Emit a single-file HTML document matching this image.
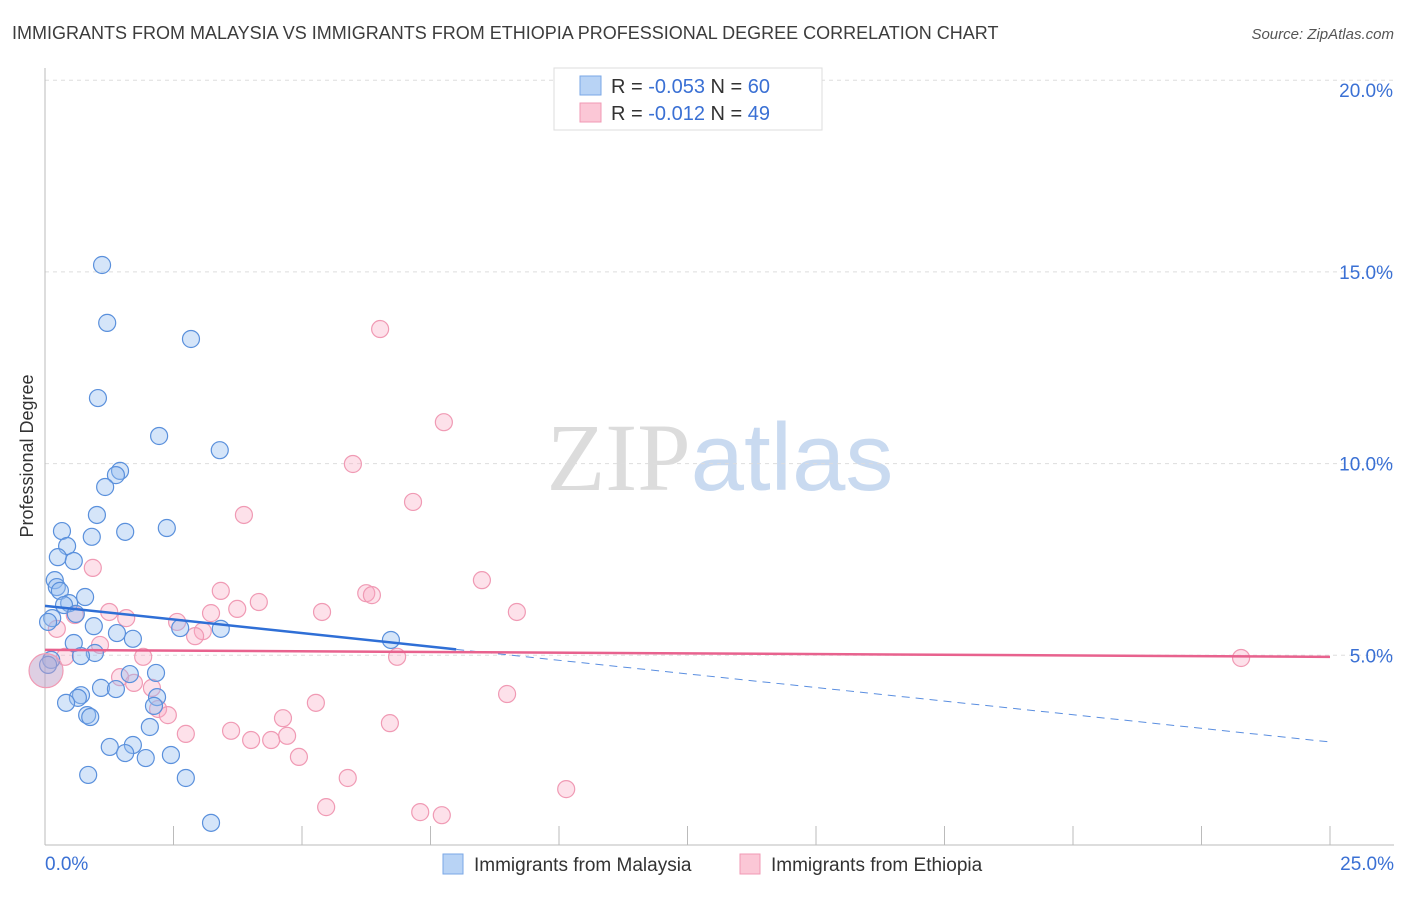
<!DOCTYPE html>
<html><head><meta charset="utf-8"><style>
body{margin:0;background:#fff;font-family:"Liberation Sans",sans-serif;}
svg text{font-family:"Liberation Sans",sans-serif;}
</style></head><body>
<svg id="chart" width="1406" height="892" xmlns="http://www.w3.org/2000/svg">
<text x="12" y="39" font-size="18" fill="#3c3c3c">IMMIGRANTS FROM MALAYSIA VS IMMIGRANTS FROM ETHIOPIA PROFESSIONAL DEGREE CORRELATION CHART</text>
<text x="1394" y="39" font-size="15" fill="#555" font-style="italic" text-anchor="end">Source: ZipAtlas.com</text>
<text x="720" y="490" font-size="96" text-anchor="middle"><tspan fill="#dcdcdc" font-family="Liberation Serif">ZIP</tspan><tspan fill="#c9daf0">atlas</tspan></text>
<text transform="translate(33,456) rotate(-90)" font-size="18" fill="#333" text-anchor="middle">Professional Degree</text>
<g id="grid"></g>
<g id="axes"></g>
<g id="points"></g>
<g id="trends"></g>
<g>
<rect x="554" y="68" width="268" height="62" fill="#fff" stroke="#ddd"/>
<rect x="580" y="76" width="21" height="19" fill="#b8d3f5" stroke="#7aa7e6"/>
<rect x="580" y="103" width="21" height="19" fill="#fbc7d6" stroke="#f09ab4"/>
<text x="611" y="93" font-size="20" fill="#333">R = <tspan fill="#3a70d4">-0.053</tspan>   N = <tspan fill="#3a70d4">60</tspan></text>
<text x="611" y="120" font-size="20" fill="#333">R =  <tspan fill="#3a70d4">-0.012</tspan>   N = <tspan fill="#3a70d4">49</tspan></text>
</g>
<g>
<rect x="443" y="854" width="20" height="20" fill="#b8d3f5" stroke="#7aa7e6"/>
<text x="474" y="871" font-size="19" fill="#333">Immigrants from Malaysia</text>
<rect x="740" y="854" width="20" height="20" fill="#fbc7d6" stroke="#f09ab4"/>
<text x="771" y="871" font-size="19" fill="#333">Immigrants from Ethiopia</text>
</g>
</svg>
<script>
const xTicks=[0,2.5,5,7.5,10,12.5,15,17.5,20,22.5,25];
const yTicks=[5,10,15,20];
const yTickLabels=["5.0%","10.0%","15.0%","20.0%"];
const xEndLabels=["0.0%","25.0%"];
const malaysiaX=[1.11,1.21,2.84,1.03,2.22,3.40,1.46,1.38,1.17,1.01,2.37,0.33,1.56,0.91,0.43,0.25,0.56,0.19,0.23,0.29,0.78,0.47,0.37,0.60,0.14,0.06,0.95,2.63,3.42,1.40,1.71,6.73,0.56,0.97,0.70,0.12,0.06,2.16,1.65,1.09,1.38,0.70,0.64,2.18,0.41,2.12,0.82,0.88,2.04,1.26,1.71,1.56,1.96,2.45,0.84,2.74,3.23];
const malaysiaY=[15.18,13.67,13.25,11.71,10.72,10.35,9.81,9.70,9.39,8.66,8.32,8.24,8.22,8.09,7.85,7.56,7.46,6.96,6.78,6.68,6.52,6.36,6.31,6.08,5.97,5.87,5.76,5.71,5.69,5.58,5.43,5.40,5.32,5.06,4.98,4.88,4.75,4.54,4.51,4.15,4.12,3.96,3.89,3.91,3.76,3.68,3.44,3.39,3.13,2.61,2.66,2.45,2.32,2.40,1.88,1.80,0.63];
const ethiopiaX=[6.52,7.76,5.99,7.16,3.87,0.93,8.50,3.42,6.25,6.36,4.16,3.74,5.39,9.18,3.23,1.25,1.58,2.57,0.58,3.07,2.92,0.23,1.07,1.91,6.85,23.27,0.39,1.46,1.73,2.08,8.99,5.27,2.20,2.39,4.63,6.71,3.62,2.74,4.71,4.01,4.40,4.94,5.89,10.14,5.47,7.30,7.72];
const ethiopiaY=[13.51,11.08,9.99,9.00,8.66,7.28,6.96,6.68,6.62,6.57,6.39,6.21,6.13,6.13,6.10,6.13,5.97,5.87,6.05,5.63,5.50,5.69,5.27,4.96,4.96,4.93,4.96,4.43,4.28,4.15,3.99,3.76,3.60,3.44,3.36,3.23,3.03,2.95,2.90,2.79,2.79,2.35,1.80,1.51,1.04,0.91,0.83];
const bigX=[0.02]; const bigY=[4.6];
const malaysiaTrend=[6.29,2.74]; const malaysiaSolidEnd=8.0;
const ethiopiaTrend=[5.14,4.96];
const NS="http://www.w3.org/2000/svg";
const X=v=>45+v*51.4, Y=v=>847-v*38.34;
function mk(t,a,p){const e=document.createElementNS(NS,t);for(const k in a)e.setAttribute(k,a[k]);document.getElementById(p).appendChild(e);return e;}
yTicks.forEach((t,i)=>{
 const l=mk('line',{x1:45,x2:1394,y1:Y(t),y2:Y(t),stroke:'#ddd','stroke-dasharray':'4,4'},'grid');
 
 
 const tx=mk('text',{x:1393,y:Y(t)+7+ (t===20?10:0) ,'font-size':19,fill:'#3a70d4','text-anchor':'end'},'axes');
 tx.textContent=yTickLabels[i];
 
 
});
mk('line',{x1:45,x2:45,y1:68,y2:845,stroke:'#bbb'},'axes');
mk('line',{x1:45,x2:1394,y1:845,y2:845,stroke:'#bbb'},'axes');
xTicks.forEach(t=>{
 const l=mk('line',{x1:X(t),x2:X(t),y1:826,y2:845,stroke:'#bbb'},'axes');
 
 
});
const a=mk('text',{x:45,y:870,'font-size':19,fill:'#3a70d4'},'axes');a.textContent=xEndLabels[0];


const b=mk('text',{x:1394,y:870,'font-size':19,fill:'#3a70d4','text-anchor':'end'},'axes');b.textContent=xEndLabels[1];


ethiopiaX.forEach((x,i)=>{
 const c=mk('circle',{cx:X(x),cy:Y(ethiopiaY[i]),r:8.5,fill:'rgba(248,170,195,0.35)',stroke:'#f09ab4','stroke-width':1.2},'points');
 
 
});
malaysiaX.forEach((x,i)=>{
 const c=mk('circle',{cx:X(x),cy:Y(malaysiaY[i]),r:8.5,fill:'rgba(150,190,240,0.4)',stroke:'#5a90dc','stroke-width':1.2},'points');
 
 
});
bigX.forEach((x,i)=>{
 const c=mk('circle',{cx:X(x),cy:Y(bigY[i]),r:17,fill:'rgba(190,160,200,0.5)',stroke:'#f09ab4','stroke-width':1.2},'points');
 
 
});
const ym=v=>malaysiaTrend[0]+(malaysiaTrend[1]-malaysiaTrend[0])*v/25;
const t1=mk('line',{x1:X(0),y1:Y(ym(0)),x2:X(malaysiaSolidEnd),y2:Y(ym(malaysiaSolidEnd)),stroke:'#2f6fd6','stroke-width':2.5},'trends');


const t2=mk('line',{x1:X(malaysiaSolidEnd),y1:Y(ym(malaysiaSolidEnd)),x2:X(25),y2:Y(ym(25)),stroke:'#5a8ee0','stroke-width':1,'stroke-dasharray':'8,6'},'trends');


const t3=mk('line',{x1:X(0),y1:Y(ethiopiaTrend[0]),x2:X(25),y2:Y(ethiopiaTrend[1]),stroke:'#e8628e','stroke-width':2.5},'trends');


</script>
</body></html>
